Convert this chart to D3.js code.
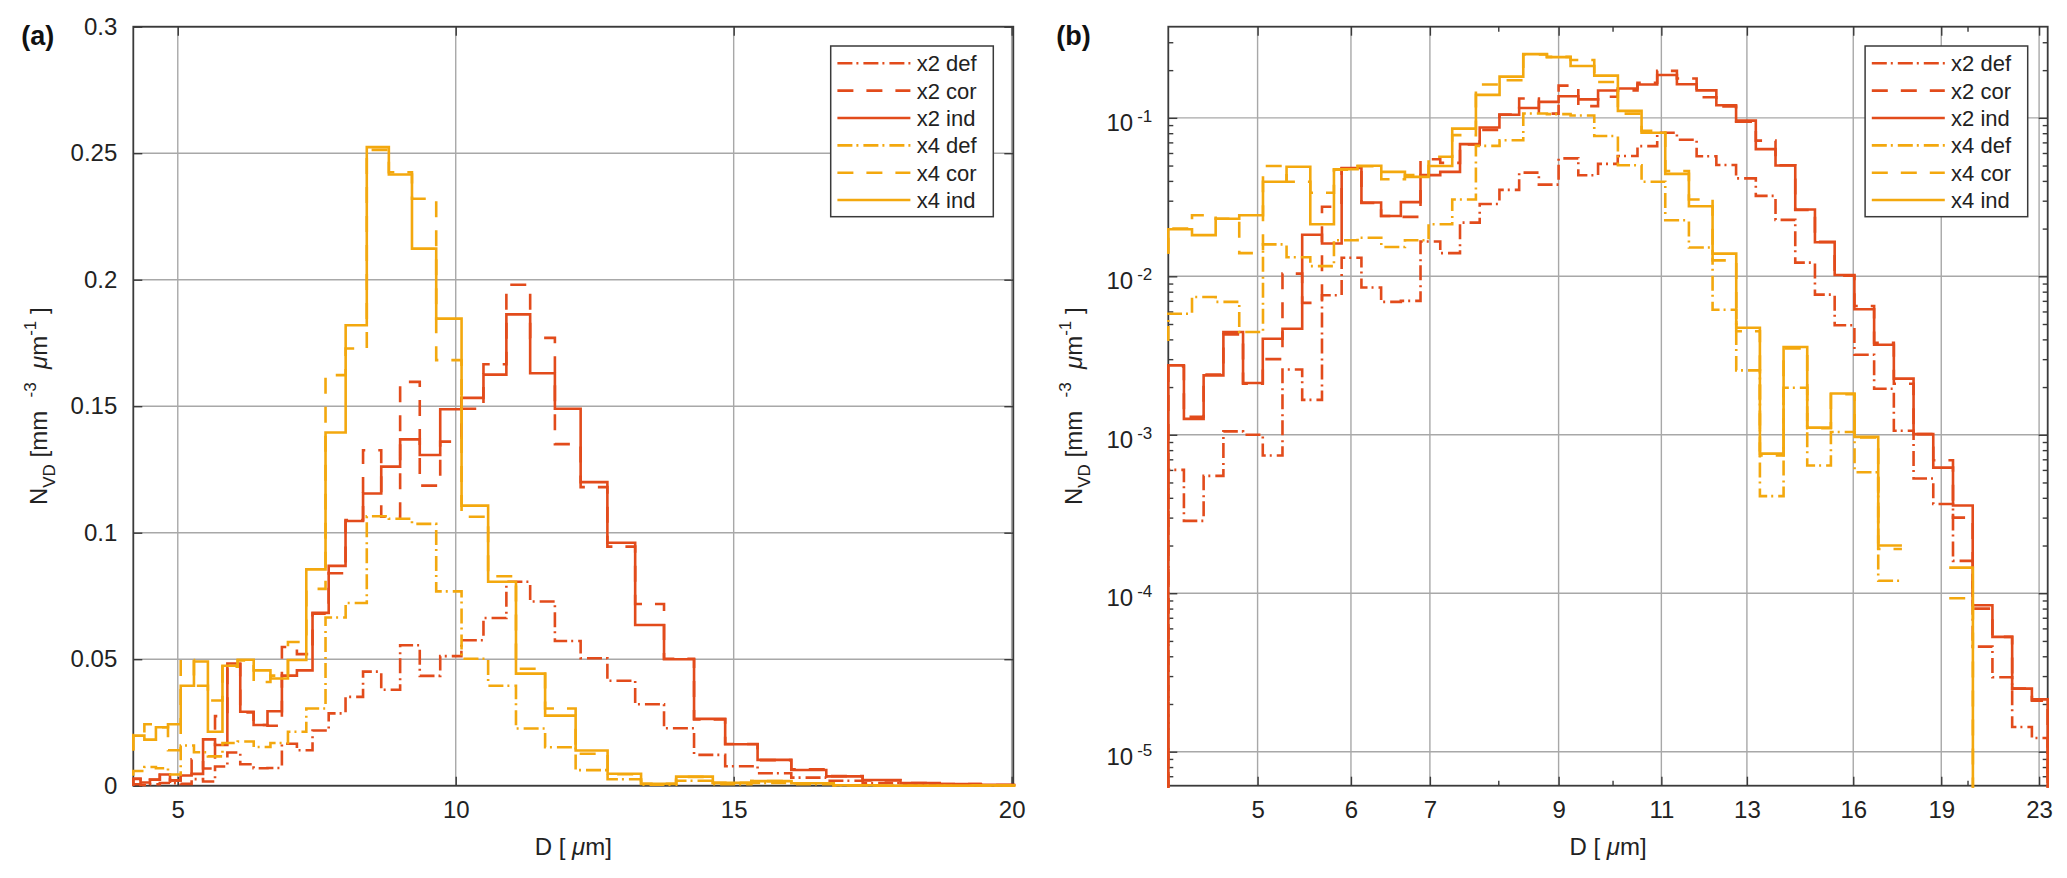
<!doctype html>
<html lang="en">
<head>
    <meta charset="UTF-8">
    <title>N_VD size distributions</title>
    <style>
        html, body {
            margin: 0;
            padding: 0;
            background: #fff;
        }

        svg {
            display: block;
        }

        .ylabel {
            white-space: pre;
        }
    </style>
</head>
<body>
<div id="chart"></div>
<script src="https://d3js.org/d3.v7.min.js"></script>
<script>
  // histogram bin edges in µm (x2 and x4 use different bin widths)
  const edgesX2 = [4.2, 4.330, 4.500, 4.677, 4.860, 5.051, 5.249, 5.455, 5.670, 5.892, 6.124, 6.364, 6.614,
    6.873, 7.143, 7.424, 7.715, 8.018, 8.333, 8.660, 9.000, 9.353, 9.721, 10.102, 10.499, 10.911, 11.339,
    11.784, 12.247, 12.728, 13.228, 13.747, 14.287, 14.847, 15.430, 16.036, 16.666, 17.320, 18.000, 18.706,
    19.441, 20.204, 20.997, 21.822, 22.679, 23.39]
  const edgesX4 = [4.2, 4.399, 4.607, 4.824, 5.053, 5.291, 5.542, 5.804, 6.078, 6.366, 6.667, 6.982, 7.312,
    7.658, 8.020, 8.400, 8.797, 9.213, 9.649, 10.105, 10.583, 11.084, 11.608, 12.157, 12.732, 13.334, 13.965,
    14.625, 15.317, 16.041, 16.800, 17.595, 18.427, 19.298, 20.211]

  // N_VD [mm^-3 µm^-1] per bin
  const x2Def = [6.0e-4, 2.86e-4, 5.5e-4, 1.05e-3, 1.0e-3, 7.4e-4, 2.58e-3, 1.66e-3, 7.6e-3, 0.0131, 0.0085,
    0.0069, 0.0070, 0.0166, 0.0140, 0.0218, 0.0286, 0.0351, 0.0451, 0.0379, 0.0555, 0.0434, 0.0512, 0.0575,
    0.0663, 0.0806, 0.0728, 0.0572, 0.0504, 0.0415, 0.0322, 0.0227, 0.0122, 0.00766, 0.00491, 0.0032,
    0.00195, 0.00106, 5.3e-4, 3.66e-4, 1.6e-4, 4.6e-5, 2.95e-5, 1.43e-5, 1.22e-5]
  const x2Cor = [0.0027, 0.0013, 0.0024, 0.0043, 0.0021, 0.0030, 0.0104, 0.0068, 0.0275, 0.0480, 0.0290,
    0.0240, 0.0237, 0.0548, 0.0520, 0.0680, 0.0840, 0.1050, 0.1326, 0.1063, 0.1596, 0.1186, 0.1360, 0.1490,
    0.1666, 0.1980, 0.1770, 0.1350, 0.1180, 0.0945, 0.0718, 0.0502, 0.0262, 0.0165, 0.0101, 0.0065, 0.0038,
    0.0021, 0.00101, 6.9e-4, 3.0e-4, 8.0e-5, 5.3e-5, 2.5e-5, 2.1e-5]
  const x2Ind = [0.00274, 0.00126, 0.00237, 0.00445, 0.00212, 0.00404, 0.00467, 0.0183, 0.0161, 0.0483,
    0.0292, 0.0240, 0.0294, 0.0435, 0.0456, 0.0683, 0.0869, 0.1046, 0.1155, 0.1261, 0.1369, 0.1307, 0.1488,
    0.1533, 0.1625, 0.1863, 0.1630, 0.1490, 0.1200, 0.0960, 0.0635, 0.0500, 0.0264, 0.0164, 0.0102, 0.0062,
    0.00370, 0.00226, 0.00101, 6.2e-4, 3.58e-4, 8.4e-5, 5.3e-5, 2.5e-5, 2.14e-5]
  const x4Def = [0.0058, 0.0074, 0.0069, 0.00445, 0.0159, 0.0132, 0.0116, 0.0169, 0.0175, 0.0153, 0.0169,
    0.0213, 0.0305, 0.0665, 0.0722, 0.1065, 0.1055, 0.1035, 0.0768, 0.0502, 0.0395, 0.0226, 0.0152, 0.00615,
    0.00255, 4.1e-4, 0.00198, 6.4e-4, 0.00104, 5.8e-4, 1.2e-4, 0, 0, 0]
  const x4Cor = [0.0200, 0.0243, 0.0231, 0.0140, 0.0497, 0.0395, 0.0337, 0.0470, 0.0495, 0.0410, 0.0435,
    0.0568, 0.0778, 0.1623, 0.1728, 0.2513, 0.2425, 0.2320, 0.1682, 0.1063, 0.0828, 0.0462, 0.0305, 0.0126,
    0.0045, 7.4e-4, 0.0035, 0.0011, 0.0018, 9.6e-4, 1.9e-4, 0, 0, 9.3e-5]
  const x4Ind = [0.0198, 0.0182, 0.0231, 0.0243, 0.0395, 0.0491, 0.0213, 0.0474, 0.0498, 0.0456, 0.0424,
    0.0497, 0.0855, 0.1396, 0.1820, 0.2524, 0.2416, 0.2123, 0.1846, 0.1107, 0.0806, 0.0443, 0.0277, 0.0139,
    0.00474, 7.6e-4, 0.00358, 0.00111, 0.00182, 9.7e-4, 2.0e-4, 0, 0, 1.45e-4]

  // value just left of the first edge / right of the last edge (FLOOR = empty, line drops to the axis)
  const FLOOR = 1e-12
  const leadValues = [FLOOR, FLOOR, FLOOR, 0.0039, 0.0139, 0.0139]
  const tailValues = [FLOOR, FLOOR, FLOOR, null, FLOOR, FLOOR]

  const seriesNames = ['x2 def', 'x2 cor', 'x2 ind', 'x4 def', 'x4 cor', 'x4 ind']

  const linXTicks = [5, 10, 15, 20]
  const linYTicks = [0, 0.05, 0.1, 0.15, 0.2, 0.25, 0.3]
  const logXTicks = [5, 6, 7, 9, 11, 13, 16, 19, 23]
  const logXMinor = [8, 10, 20]
  const logYTicks = [1e-5, 1e-4, 1e-3, 1e-2, 1e-1]

  ;(function () {
    const FONT = '"Liberation Sans", Arial, Helvetica, sans-serif'
    const RED = '#E24B1B'
    const YELLOW = '#F3A80E'
    const DASHED = '16,13'
    const DASHDOT = '15,4,2,5'
    const gridColor = '#a8a8a8'
    const axisColor = '#3a3a3a'
    const textColor = '#222'

    const series = [
      {edges: edgesX2, values: x2Def, color: RED, dash: DASHDOT},
      {edges: edgesX2, values: x2Cor, color: RED, dash: DASHED},
      {edges: edgesX2, values: x2Ind, color: RED, dash: null},
      {edges: edgesX4, values: x4Def, color: YELLOW, dash: DASHDOT},
      {edges: edgesX4, values: x4Cor, color: YELLOW, dash: DASHED},
      {edges: edgesX4, values: x4Ind, color: YELLOW, dash: null}
    ].map((s, i) => ({...s, name: seriesNames[i], lead: leadValues[i], tail: tailValues[i]}))

    const width = 2067
    const height = 878
    const plotTop = 26.7
    const plotBottom = 785.7

    const svg = d3.select('#chart')
      .append('svg')
      .attr('width', width)
      .attr('height', height)
      .attr('font-family', FONT)

    const panels = [
      {
        label: '(a)', left: 133.3, right: 1013.3, log: false,
        x: d3.scaleLinear().domain([4.2, 20.03]),
        y: d3.scaleLinear().domain([0, 0.3]),
        xTicks: linXTicks, yTicks: linYTicks
      },
      {
        label: '(b)', left: 1168.3, right: 2047.7, log: true,
        x: d3.scaleLog().domain([4.2, 23.39]),
        y: d3.scaleLog().domain([6.1e-6, 0.376]),
        xTicks: logXTicks, yTicks: logYTicks
      }
    ]

    const stairPoints = (s) => {
      const pts = []
      if (s.lead != null) pts.push([s.edges[0], s.lead])
      s.values.forEach((v, i) => {
        pts.push([s.edges[i], v], [s.edges[i + 1], v])
      })
      if (s.tail != null) pts.push([s.edges[s.values.length], s.tail])
      return pts
    }

    const styleAxis = (g) => {
      g.select('.domain').remove()
      g.attr('font-size', 24).attr('font-family', FONT).attr('color', textColor)
      g.selectAll('.tick line').attr('stroke', axisColor).attr('stroke-width', 1.4)
    }

    panels.forEach((p, pi) => {
      const {x, y} = p
      x.range([p.left, p.right])
      y.range([plotBottom, plotTop])
      const g = svg.append('g')

      // grid
      g.append('g').selectAll('line').data(p.xTicks).join('line')
        .attr('x1', d => x(d)).attr('x2', d => x(d))
        .attr('y1', plotTop).attr('y2', plotBottom)
        .attr('stroke', gridColor).attr('stroke-width', 1.4)
      g.append('g').selectAll('line').data(p.yTicks).join('line')
        .attr('x1', p.left).attr('x2', p.right)
        .attr('y1', d => y(d)).attr('y2', d => y(d))
        .attr('stroke', gridColor).attr('stroke-width', 1.4)

      // box
      g.append('rect')
        .attr('x', p.left).attr('y', plotTop)
        .attr('width', p.right - p.left).attr('height', plotBottom - plotTop)
        .attr('fill', 'none').attr('stroke', axisColor).attr('stroke-width', 1.8)

      // axes, ticks pointing inwards on all four sides
      const xFmt = d => d
      const yFmt = p.log ? () => '10' : d => String(+d.toFixed(2))

      g.append('g').attr('transform', `translate(0,${plotBottom})`)
        .call(d3.axisBottom(x).tickValues(p.xTicks).tickFormat(xFmt).tickSizeInner(-9).tickSizeOuter(0).tickPadding(15))
        .call(styleAxis)
      g.append('g').attr('transform', `translate(0,${plotTop})`)
        .call(d3.axisTop(x).tickValues(p.xTicks).tickFormat('').tickSizeInner(-9).tickSizeOuter(0))
        .call(styleAxis)
      const yAxis = g.append('g').attr('transform', `translate(${p.left},0)`)
        .call(d3.axisLeft(y).tickValues(p.yTicks).tickFormat(yFmt).tickSizeInner(-9).tickSizeOuter(0).tickPadding(16))
        .call(styleAxis)
      g.append('g').attr('transform', `translate(${p.right},0)`)
        .call(d3.axisRight(y).tickValues(p.yTicks).tickFormat('').tickSizeInner(-9).tickSizeOuter(0))
        .call(styleAxis)

      if (p.log) {
        // 10^k labels
        yAxis.selectAll('.tick text')
          .attr('dy', '0.52em')
          .each(function (d) {
            d3.select(this).append('tspan')
              .attr('dx', 4).attr('dy', -9)
              .attr('font-size', 17)
              .text(Math.round(Math.log10(d)))
          })

        const yMinor = []
        for (let k = -6; k <= -1; k++) {
          for (let m = 2; m <= 9; m++) {
            const v = m * Math.pow(10, k)
            if (v > y.domain()[0] && v < y.domain()[1]) yMinor.push(v)
          }
        }
        g.append('g').attr('transform', `translate(${p.left},0)`)
          .call(d3.axisLeft(y).tickValues(yMinor).tickFormat('').tickSizeInner(-5).tickSizeOuter(0))
          .call(styleAxis)
        g.append('g').attr('transform', `translate(${p.right},0)`)
          .call(d3.axisRight(y).tickValues(yMinor).tickFormat('').tickSizeInner(-5).tickSizeOuter(0))
          .call(styleAxis)
        g.append('g').attr('transform', `translate(0,${plotBottom})`)
          .call(d3.axisBottom(x).tickValues(logXMinor).tickFormat('').tickSizeInner(-5).tickSizeOuter(0))
          .call(styleAxis)
        g.append('g').attr('transform', `translate(0,${plotTop})`)
          .call(d3.axisTop(x).tickValues(logXMinor).tickFormat('').tickSizeInner(-5).tickSizeOuter(0))
          .call(styleAxis)
      }

      // data
      const clipId = 'clip' + pi
      svg.append('clipPath').attr('id', clipId)
        .append('rect')
        .attr('x', p.left - 2).attr('y', plotTop - 2)
        .attr('width', p.right - p.left + 4).attr('height', plotBottom - plotTop + 4)

      const line = d3.line()
        .defined(d => !p.log || d[1] > 0)
        .x(d => x(d[0]))
        .y(d => p.log ? y(d[1]) : y(Math.max(d[1], 0)))

      g.append('g').attr('clip-path', `url(#${clipId})`)
        .selectAll('path').data(series).join('path')
        .attr('d', s => line(stairPoints(s)))
        .attr('fill', 'none')
        .attr('stroke', s => s.color)
        .attr('stroke-width', 2.6)
        .attr('stroke-dasharray', s => s.dash)
        .attr('stroke-linejoin', 'miter')

      // legend
      const lw = 162.6
      const lh = 170.7
      const lx = p.right - 20 - lw
      const ly = plotTop + 19.3
      const legend = g.append('g').attr('transform', `translate(${lx},${ly})`)
      legend.append('rect')
        .attr('width', lw).attr('height', lh)
        .attr('fill', '#fff').attr('stroke', axisColor).attr('stroke-width', 1.5)
      const rows = legend.selectAll('g.row').data(series).join('g')
        .attr('class', 'row')
        .attr('transform', (d, i) => `translate(0,${17.3 + i * 27.35})`)
      rows.append('line')
        .attr('x1', 6.7).attr('x2', 79.7)
        .attr('stroke', d => d.color).attr('stroke-width', 2.6)
        .attr('stroke-dasharray', d => d.dash)
      rows.append('text')
        .attr('x', 86).attr('dy', '0.36em')
        .attr('font-size', 22).attr('fill', textColor)
        .text(d => d.name)

      // axis titles
      const xl = g.append('text')
        .attr('x', (p.left + p.right) / 2).attr('y', 855)
        .attr('text-anchor', 'middle').attr('font-size', 24).attr('fill', textColor)
      xl.append('tspan').text('D [ ')
      xl.append('tspan').attr('font-style', 'italic').text('μ')
      xl.append('tspan').text('m]')

      const yl = g.append('text')
        .attr('class', 'ylabel')
        .attr('transform', `translate(${p.left - 86},${(plotTop + plotBottom) / 2}) rotate(-90)`)
        .attr('text-anchor', 'middle').attr('font-size', 24).attr('fill', textColor)
      yl.append('tspan').text('N')
      yl.append('tspan').attr('font-size', 17).attr('dy', 8).text('VD')
      yl.append('tspan').attr('dy', -8).text(' [mm  ')
      yl.append('tspan').attr('font-size', 17).attr('dy', -11).text('-3')
      yl.append('tspan').attr('dy', 11).text('  ')
      yl.append('tspan').attr('font-style', 'italic').text('μ')
      yl.append('tspan').text('m')
      yl.append('tspan').attr('font-size', 17).attr('dy', -11).text('-1')
      yl.append('tspan').attr('dy', 11).text(' ]')

      // panel letter
      g.append('text')
        .attr('x', p.left - 112).attr('y', 44.5)
        .attr('font-size', 27).attr('font-weight', 'bold').attr('fill', '#111')
        .text(p.label)
    })
  })()
</script>
</body>
</html>
